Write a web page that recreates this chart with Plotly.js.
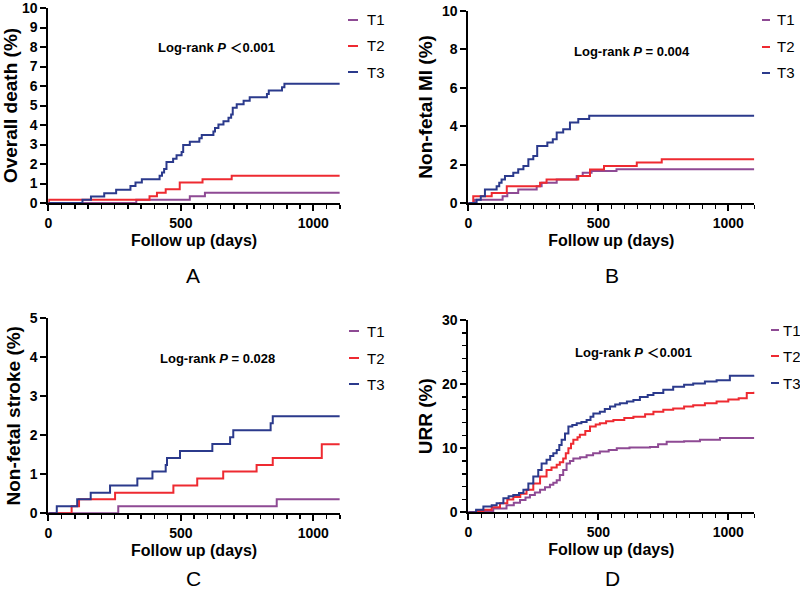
<!DOCTYPE html>
<html>
<head>
<meta charset="utf-8">
<script src="https://cdn.plot.ly/plotly-3.0.1.min.js"></script>
<style>html,body{margin:0;padding:0;background:#fff;}#chart{width:800px;height:589px;}</style>
</head>
<body>
<div id="chart"></div>
<script>
// ---------- DATA ----------
const seriesNames = ['T1', 'T2', 'T3'];
const panelLetters = ['A', 'B', 'C', 'D'];
const yTitles = ['Overall death (%)', 'Non-fetal MI (%)', 'Non-fetal stroke (%)', 'URR (%)'];
const xTitle = 'Follow up (days)';
const pTexts = ['Log-rank <i>P</i> ＜0.001', 'Log-rank <i>P</i> = 0.004', 'Log-rank <i>P</i> = 0.028', 'Log-rank <i>P</i> ＜0.001'];

// Panel A: overall death
const A_T1_days = [0, 332, 534, 591, 1100];
const A_T1_pct  = [0, 0.17, 0.35, 0.52, 0.52];
const A_T2_days = [0, 2, 382, 410, 443, 496, 582, 692, 1100];
const A_T2_pct  = [0, 0.17, 0.35, 0.53, 0.70, 1.05, 1.22, 1.40, 1.40];
const A_T3_days = [0, 129, 161, 211, 256, 310, 329, 353, 420, 429, 437, 446, 471, 484, 503, 509, 534, 570, 579, 623, 629, 642, 661, 680, 690, 696, 711, 737, 760, 825, 832, 882, 891, 1100];
const A_T3_pct  = [0, 0.17, 0.33, 0.5, 0.68, 0.87, 1.05, 1.22, 1.4, 1.57, 1.75, 2.1, 2.27, 2.45, 2.62, 2.97, 3.14, 3.32, 3.49, 3.67, 3.84, 4.02, 4.19, 4.37, 4.54, 4.89, 5.07, 5.24, 5.42, 5.59, 5.77, 5.94, 6.12, 6.12];

// Panel B: non-fetal MI
const B_T1_days = [0, 25, 132, 150, 192, 263, 282, 340, 417, 440, 474, 570, 1100];
const B_T1_pct  = [0, 0.17, 0.35, 0.52, 0.7, 0.87, 1.05, 1.22, 1.4, 1.57, 1.66, 1.75, 1.75];
const B_T2_days = [0, 19, 90, 148, 276, 301, 423, 468, 522, 648, 744, 1100];
const B_T2_pct  = [0, 0.35, 0.52, 0.87, 1.05, 1.22, 1.4, 1.74, 1.92, 2.1, 2.28, 2.28];
const B_T3_days = [0, 32, 48, 64, 109, 119, 128, 141, 173, 192, 212, 231, 250, 265, 304, 325, 340, 365, 391, 423, 465, 1100];
const B_T3_pct  = [0, 0.17, 0.35, 0.7, 0.87, 1.05, 1.22, 1.4, 1.57, 1.75, 1.92, 2.27, 2.45, 2.97, 3.14, 3.32, 3.67, 3.84, 4.19, 4.37, 4.54, 4.54];

// Panel C: non-fetal stroke
const C_T1_days = [0, 264, 862, 1100];
const C_T1_pct  = [0, 0.18, 0.36, 0.36];
const C_T2_days = [0, 88, 116, 252, 472, 562, 660, 786, 847, 1032, 1100];
const C_T2_pct  = [0, 0.18, 0.36, 0.53, 0.71, 0.89, 1.07, 1.24, 1.42, 1.77, 1.77];
const C_T3_days = [0, 32, 109, 160, 233, 336, 393, 443, 448, 497, 619, 686, 698, 839, 847, 1100];
const C_T3_pct  = [0, 0.18, 0.36, 0.53, 0.71, 0.89, 1.07, 1.24, 1.42, 1.6, 1.78, 1.95, 2.13, 2.31, 2.49, 2.49];

// Panel D: URR
const D_T1_days = [0, 50, 96, 147, 175, 199, 220, 237, 256, 276, 295, 314, 327, 340, 352, 365, 378, 391, 404, 430, 455, 480, 506, 540, 571, 620, 699, 730, 763, 830, 891, 968, 1100];
const D_T1_pct  = [0, 0.2, 0.6, 1.1, 1.5, 1.9, 2.3, 2.7, 3.1, 3.5, 3.9, 4.3, 4.6, 5.0, 5.8, 6.6, 7.6, 8.0, 8.4, 8.6, 8.9, 9.2, 9.5, 9.7, 10.0, 10.1, 10.2, 10.6, 11.0, 11.1, 11.3, 11.6, 11.6];
const D_T2_days = [0, 30, 58, 90, 122, 150, 173, 200, 224, 250, 276, 301, 320, 340, 352, 365, 375, 385, 395, 404, 420, 429, 450, 468, 490, 506, 530, 558, 600, 635, 680, 712, 750, 788, 830, 865, 910, 955, 1000, 1040, 1071, 1100];
const D_T2_pct  = [0, 0.2, 0.4, 0.8, 1.4, 2.0, 2.4, 2.9, 3.5, 4.5, 5.6, 6.6, 7.0, 7.4, 7.8, 8.4, 9.2, 10.0, 10.7, 11.3, 11.7, 12.1, 12.7, 13.4, 13.7, 13.9, 14.2, 14.4, 14.7, 14.9, 15.3, 15.7, 16.0, 16.2, 16.5, 16.7, 17.0, 17.3, 17.6, 17.8, 18.6, 18.8];
const D_T3_days = [0, 30, 58, 90, 109, 135, 155, 173, 195, 212, 231, 250, 269, 282, 301, 315, 327, 340, 350, 359, 372, 385, 400, 417, 435, 455, 470, 481, 506, 525, 545, 565, 583, 610, 635, 660, 690, 712, 750, 788, 830, 865, 910, 955, 1006, 1100];
const D_T3_pct  = [0, 0.4, 0.9, 1.1, 1.4, 2.2, 2.5, 2.7, 3.0, 3.5, 4.5, 5.6, 6.6, 7.6, 8.2, 8.8, 9.2, 9.7, 10.5, 11.3, 12.3, 13.4, 13.6, 13.9, 14.1, 14.4, 14.9, 15.4, 15.7, 16.1, 16.5, 16.8, 17.0, 17.3, 17.5, 18.0, 18.3, 18.6, 19.1, 19.6, 19.9, 20.1, 20.4, 20.6, 21.3, 21.4];

const panelData = [
  [[A_T1_days, A_T1_pct], [A_T2_days, A_T2_pct], [A_T3_days, A_T3_pct]],
  [[B_T1_days, B_T1_pct], [B_T2_days, B_T2_pct], [B_T3_days, B_T3_pct]],
  [[C_T1_days, C_T1_pct], [C_T2_days, C_T2_pct], [C_T3_days, C_T3_pct]],
  [[D_T1_days, D_T1_pct], [D_T2_days, D_T2_pct], [D_T3_days, D_T3_pct]]
];

// ---------- STYLE / LAYOUT ----------
const W = 800, H = 589;
const px = v => v / W;
const py = v => 1 - v / H;
const colors = ['#8E4A94', '#EE2A31', '#2B3A8C'];
const FONT = 'Liberation Sans, Arial, Helvetica, sans-serif';

// plot rectangles in pixels: [left, right, top, bottom]
const rects = [
  [48.3, 339.8, 8, 203],
  [468.3, 754.3, 10.7, 203],
  [48.3, 339.8, 318.3, 513.3],
  [468.3, 754.3, 320, 512.3]
];
const yRanges = [[0, 10], [0, 10], [0, 5], [0, 30]];
const yDticks = [1, 2, 1, 10];
const yMinor = [null, null, null, 2];

const traces = [];
panelData.forEach((panel, p) => {
  panel.forEach((s, i) => {
    traces.push({
      x: s[0], y: s[1], name: seriesNames[i], type: 'scatter', mode: 'lines',
      line: {shape: 'hv', color: colors[i], width: 2},
      xaxis: 'x' + (p === 0 ? '' : p + 1), yaxis: 'y' + (p === 0 ? '' : p + 1),
      showlegend: false, hoverinfo: 'skip'
    });
  });
});

const layout = {
  width: W, height: H,
  margin: {l: 0, r: 0, t: 0, b: 0},
  paper_bgcolor: '#fff', plot_bgcolor: '#fff',
  showlegend: false,
  font: {family: FONT, color: '#000'},
  annotations: [], shapes: []
};

const tickFont = {family: FONT, size: 14, color: '#000', weight: 'bold'};
rects.forEach((r, p) => {
  const sfx = p === 0 ? '' : String(p + 1);
  layout['xaxis' + sfx] = {
    domain: [px(r[0]), px(r[1])], anchor: 'y' + sfx, range: [0, 1100],
    showline: true, linewidth: 2, linecolor: '#000', mirror: false,
    ticks: 'outside', ticklen: 6, tickwidth: 2, tickcolor: '#000',
    tickvals: [0, 500, 1000], ticktext: ['0', '500', '1000'],
    minor: {tickvals: Array.from({length: 23}, (_, k) => k * 50), ticks: 'outside', ticklen: 4, tickwidth: 1.5, tickcolor: '#000'},
    showgrid: false, zeroline: false, tickfont: tickFont, fixedrange: true,
    ticklabeloverflow: 'allow',
    title: {text: xTitle, font: {family: FONT, size: 16, color: '#000', weight: 'bold'}, standoff: 5}
  };
  const yax = {
    domain: [py(r[3]), py(r[2])], anchor: 'x' + sfx, range: yRanges[p],
    showline: true, linewidth: 2, linecolor: '#000',
    ticks: 'outside', ticklen: 6, tickwidth: 2, tickcolor: '#000',
    dtick: yDticks[p], tick0: 0,
    showgrid: false, zeroline: false, tickfont: tickFont, fixedrange: true,
    ticklabeloverflow: 'allow',
    title: {text: yTitles[p], font: {family: FONT, size: 19, color: '#000', weight: 'bold'}, standoff: 4}
  };
  if (yMinor[p]) yax.minor = {dtick: yMinor[p], ticks: 'outside', ticklen: 4, tickwidth: 1.5, tickcolor: '#000'};
  layout['yaxis' + sfx] = yax;
});

// Log-rank text
const pPos = [[216, 48], [632, 52], [217, 358], [633, 352]];
pPos.forEach((pp, p) => {
  layout.annotations.push({xref: 'paper', yref: 'paper', x: px(pp[0]), y: py(pp[1]),
    xanchor: 'center', yanchor: 'middle', showarrow: false, text: pTexts[p],
    font: {family: FONT + ', Noto Sans CJK SC', size: 13, color: '#000', weight: 'bold'}});
});

// Panel letters
const letterPos = [[193, 275], [612, 275], [193, 578], [612, 578]];
letterPos.forEach((lp, p) => {
  layout.annotations.push({xref: 'paper', yref: 'paper', x: px(lp[0]), y: py(lp[1]),
    xanchor: 'center', yanchor: 'middle', showarrow: false, text: panelLetters[p],
    font: {family: FONT, size: 21, color: '#000'}});
});

// Legends (swatch line + label)
const legPos = [
  {x0: 348, x1: 358, tx: 365, ys: [20, 46, 72]},
  {x0: 762, x1: 770, tx: 775, ys: [20, 47, 73]},
  {x0: 349, x1: 359, tx: 365, ys: [331, 358, 384]},
  {x0: 771, x1: 779, tx: 781, ys: [330, 356, 383]}
];
legPos.forEach(lg => {
  lg.ys.forEach((yy, i) => {
    layout.shapes.push({type: 'line', xref: 'paper', yref: 'paper',
      x0: px(lg.x0), x1: px(lg.x1), y0: py(yy), y1: py(yy),
      line: {color: colors[i], width: 2}});
    layout.annotations.push({xref: 'paper', yref: 'paper', x: px(lg.tx), y: py(yy),
      xanchor: 'left', yanchor: 'middle', showarrow: false, text: seriesNames[i],
      font: {family: FONT, size: 15, color: '#000'}});
  });
});

Plotly.newPlot('chart', traces, layout, {staticPlot: true, displayModeBar: false});
</script>
</body>
</html>
